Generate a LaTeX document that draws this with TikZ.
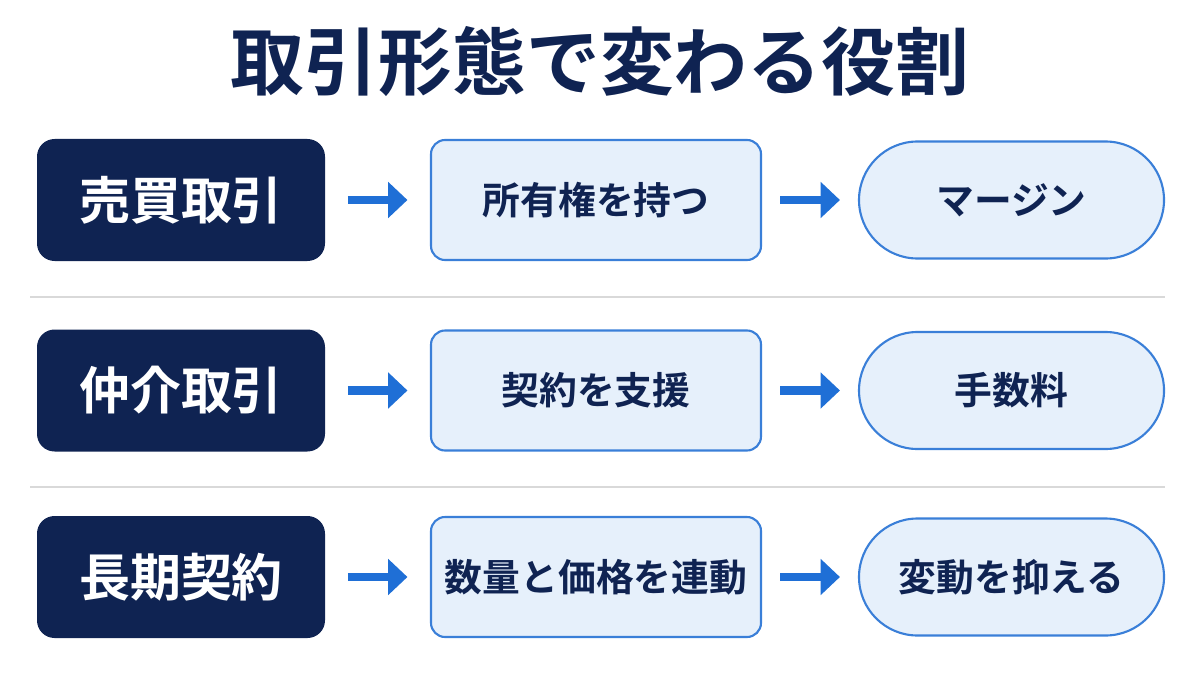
\documentclass[tikz,border=0pt]{standalone}
\usepackage{fontspec}
\setmainfont{Noto Sans CJK JP}[BoldFont={* Bold}]
\usetikzlibrary{positioning,arrows.meta}
\definecolor{navy}{HTML}{0F2352}
\definecolor{ablue}{HTML}{1F6FD6}
\definecolor{lblue}{HTML}{E6F0FB}
\definecolor{bblue}{HTML}{3A7FD8}
\tikzset{
	kind/.style={rectangle, rounded corners=10pt, fill=navy, text=white,
			minimum width=5.76cm, minimum height=2.44cm, font=\fontsize{29}{33}\selectfont\bfseries},
	act/.style={rectangle, rounded corners=8pt, draw=bblue, line width=1.2pt, fill=lblue, text=navy,
			minimum width=6.6cm, minimum height=2.4cm, font=\fontsize{21.5}{25}\selectfont\bfseries},
	gain/.style={rectangle, rounded corners=1.17cm, draw=bblue, line width=1.2pt, fill=lblue, text=navy,
			minimum width=6.1cm, minimum height=2.34cm, font=\fontsize{21.5}{25}\selectfont\bfseries},
	flow/.style={-{Triangle[length=11pt,width=20pt]}, line width=5pt, draw=ablue}
}
\begin{document}
\begin{tikzpicture}
	\useasboundingbox (0,0) rectangle (24,13.5);
	% title
	\node[text=navy, font=\fontsize{42}{46}\selectfont\bfseries] (title) at (12,12.26) {取引形態で変わる役割};
	% rows
	\node[kind] (k1) at (3.62,9.5) {売買取引};
	\node[act] (a1) at (11.92,9.5) {所有権を持つ};
	\node[gain] (g1) at (20.23,9.5) {マージン};
	\node[kind] (k2) at (3.62,5.69) {仲介取引};
	\node[act] (a2) at (11.92,5.69) {契約を支援};
	\node[gain] (g2) at (20.23,5.69) {手数料};
	\node[kind] (k3) at (3.62,1.96) {長期契約};
	\node[act] (a3) at (11.92,1.96) {数量と価格を連動};
	\node[gain] (g3) at (20.23,1.96) {変動を抑える};
	% arrows
	\foreach \r in {1,2,3}{
		\draw[flow] ([xshift=0.45cm]k\r.east) -- ([xshift=-0.45cm]a\r.west);
		\draw[flow] ([xshift=0.36cm]a\r.east) -- ([xshift=-0.36cm]g\r.west);
	}
	% separators
	\draw[gray!30, line width=1pt] (0.6,7.56) -- (23.3,7.56);
	\draw[gray!30, line width=1pt] (0.6,3.76) -- (23.3,3.76);
\end{tikzpicture}
\end{document}
